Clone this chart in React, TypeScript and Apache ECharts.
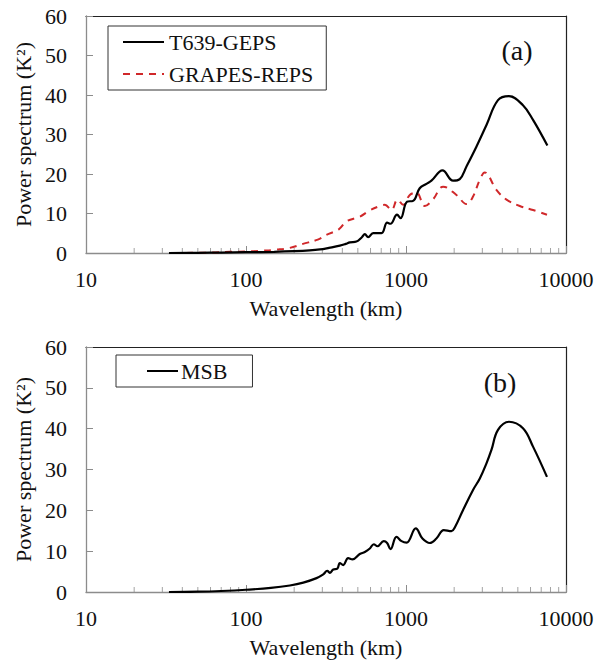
import React, { useEffect, useRef } from "react";
import * as echarts from "echarts";

const FONT = "Liberation Serif";

// Panel (a): T639-GEPS
const t639Wavelength = [33, 50, 70, 100, 150, 200, 250, 290, 330, 386, 420, 446, 490, 530, 553, 580, 623, 703, 762, 800, 879, 924, 1016, 1107, 1218, 1342, 1442, 1690, 1969, 2168, 2388, 2754, 3184, 3758, 4400, 5383, 6222, 7650];
const t639Power = [0, 0.05, 0.1, 0.2, 0.3, 0.45, 0.65, 0.9, 1.3, 1.85, 2.3, 2.7, 2.9, 4.0, 4.8, 4.0, 5.05, 5.05, 7.7, 7.4, 9.7, 8.8, 13.0, 13.2, 16.4, 17.5, 18.3, 20.9, 18.3, 18.7, 21.9, 26.9, 32.4, 38.7, 39.7, 37.4, 33.7, 27.2];

// Panel (a): GRAPES-REPS
const grapesWavelength = [35, 60, 80, 103, 128, 155, 188, 227, 281, 318, 380, 425, 514, 594, 686, 737, 811, 885, 960, 1056, 1163, 1310, 1476, 1706, 2066, 2388, 2624, 2890, 3105, 3673, 4246, 5140, 6222, 7605];
const grapesPower = [0, 0.1, 0.3, 0.4, 0.6, 0.85, 1.3, 2.3, 3.4, 4.6, 6.0, 8.0, 9.2, 10.8, 11.9, 12.2, 10.9, 13.5, 12.2, 14.7, 15.3, 11.9, 13.6, 16.8, 14.7, 12.4, 14.3, 18.5, 20.4, 16.0, 13.5, 11.9, 10.9, 9.7];

// Panel (b): MSB
const msbWavelength = [33, 50, 70, 100, 143, 188, 228, 276, 304, 322, 334, 351, 372, 386, 405, 435, 463, 514, 553, 594, 629, 664, 726, 762, 800, 872, 938, 1008, 1151, 1267, 1409, 1549, 1722, 1923, 2018, 2274, 2624, 2893, 3184, 3420, 3758, 4403, 5383, 6222, 7605];
const msbPower = [0, 0.08, 0.25, 0.55, 1.0, 1.6, 2.3, 3.4, 4.3, 5.2, 4.7, 5.5, 5.7, 7.1, 6.6, 8.3, 8.0, 9.3, 9.8, 10.65, 11.7, 11.2, 12.45, 12.0, 10.5, 13.5, 12.45, 12.1, 15.6, 13.1, 12.0, 13.1, 15.15, 14.9, 15.8, 20.1, 25.0, 27.8, 31.5, 34.8, 39.7, 41.7, 40.1, 35.6, 28.2];

// Axis definitions
const xMin = 10;
const xMax = 10000;
const xMinorTicks = [20, 30, 40, 50, 60, 70, 80, 90, 200, 300, 400, 500, 600, 700, 800, 900, 2000, 3000, 4000, 5000, 6000, 7000, 8000, 9000];
const yMin = 0;
const yMax = 60;
const yInterval = 10;

const xTitle = "Wavelength (km)";
const yTitle = "Power spectrum (K²)";
const panelLabels = ["(a)", "(b)"];

const zip = (xs: number[], ys: number[]) => xs.map((x, i) => [x, ys[i]]);

const AXIS_GRAY = "#8c8c8c";
const TEXT = "#111";

function buildOption() {
  const grids = [
    { left: 86, top: 16, width: 480, height: 237 },
    { left: 86, top: 347, width: 480, height: 245 },
  ];
  const xAxes: any[] = [];
  const yAxes: any[] = [];
  grids.forEach((_, gi) => {
    xAxes.push({
      type: "log",
      logBase: 10,
      gridIndex: gi,
      min: xMin,
      max: xMax,
      axisLine: { show: true, onZero: false, lineStyle: { color: AXIS_GRAY, width: 1.3 } },
      axisTick: { show: true, inside: true, length: 7, lineStyle: { color: AXIS_GRAY, width: 1 } },
      axisLabel: { fontFamily: FONT, fontSize: 22, color: TEXT, margin: 15, formatter: (v: number) => String(Math.round(v)) },
      splitLine: { show: false },
      name: xTitle,
      nameLocation: "middle",
      nameGap: 44,
      nameTextStyle: { fontFamily: FONT, fontSize: 22, color: TEXT },
    });
    xAxes.push({
      type: "log",
      logBase: 10,
      gridIndex: gi,
      position: "top",
      min: xMin,
      max: xMax,
      axisLine: { show: true, onZero: false, lineStyle: { color: "#222", width: 1.2 } },
      axisTick: { show: false },
      axisLabel: { show: false },
      splitLine: { show: false },
    });
    yAxes.push({
      type: "value",
      gridIndex: gi,
      min: yMin,
      max: yMax,
      interval: yInterval,
      axisLine: { show: true, onZero: false, lineStyle: { color: AXIS_GRAY, width: 1.3 } },
      axisTick: { show: true, inside: true, length: 7, lineStyle: { color: AXIS_GRAY, width: 1 } },
      axisLabel: { fontFamily: FONT, fontSize: 22, color: TEXT, margin: 19 },
      splitLine: { show: false },
      name: yTitle,
      nameLocation: "middle",
      nameGap: 49,
      nameTextStyle: { fontFamily: FONT, fontSize: 22, color: TEXT },
    });
    yAxes.push({
      type: "value",
      gridIndex: gi,
      position: "right",
      min: yMin,
      max: yMax,
      interval: yInterval,
      axisLine: { show: true, onZero: false, lineStyle: { color: "#222", width: 1.2 } },
      axisTick: { show: false },
      axisLabel: { show: false },
      splitLine: { show: false },
    });
  });

  const minorTickSeries = (gi: number) => ({
    type: "scatter",
    name: "minor-ticks-" + gi,
    xAxisIndex: gi * 2,
    yAxisIndex: gi * 2,
    data: xMinorTicks.map((v) => [v, yMin]),
    symbol: "rect",
    symbolSize: [1, 5],
    symbolOffset: [0, -2.5],
    itemStyle: { color: AXIS_GRAY },
    silent: true,
    z: 1,
  });

  const legendCommon = {
    orient: "vertical",
    borderColor: "#333",
    borderWidth: 1,
    itemHeight: 14,
    selectedMode: false,
    itemStyle: { opacity: 0, borderWidth: 0 },
  };

  return {
    animation: false,
    backgroundColor: "#fff",
    textStyle: { fontFamily: FONT },
    grid: grids,
    xAxis: xAxes,
    yAxis: yAxes,
    legend: [
      {
        ...legendCommon,
        data: ["T639-GEPS", "GRAPES-REPS"],
        left: 108,
        top: 26,
        padding: [5, 13, 5, 14],
        itemWidth: 41,
        itemGap: 10,
        textStyle: { fontFamily: FONT, fontSize: 22, color: TEXT, lineHeight: 22 },
      },
      {
        ...legendCommon,
        data: ["MSB"],
        left: 116,
        top: 355,
        padding: [5, 25, 5, 30],
        itemWidth: 31,
        textStyle: { fontFamily: FONT, fontSize: 22, color: TEXT, lineHeight: 22, padding: [0, 0, 0, -2] },
      },
    ],
    graphic: [
      {
        type: "text",
        x: 517,
        y: 50,
        style: { text: panelLabels[0], fontFamily: FONT, fontSize: 28, fill: TEXT, textAlign: "center", textVerticalAlign: "middle" },
      },
      {
        type: "text",
        x: 500,
        y: 382,
        style: { text: panelLabels[1], fontFamily: FONT, fontSize: 28, fill: TEXT, textAlign: "center", textVerticalAlign: "middle" },
      },
    ],
    series: [
      minorTickSeries(0),
      minorTickSeries(1),
      {
        type: "line",
        name: "T639-GEPS",
        xAxisIndex: 0,
        yAxisIndex: 0,
        data: zip(t639Wavelength, t639Power),
        symbol: "none",
        smooth: 0.4,
        lineStyle: { color: "#000", width: 2.2 },
        itemStyle: { color: "#000" },
        z: 3,
      },
      {
        type: "line",
        name: "GRAPES-REPS",
        xAxisIndex: 0,
        yAxisIndex: 0,
        data: zip(grapesWavelength, grapesPower),
        symbol: "none",
        smooth: 0.4,
        lineStyle: { color: "#d0282a", width: 2, type: [7, 6] },
        itemStyle: { color: "#d0282a" },
        z: 2,
      },
      {
        type: "line",
        name: "MSB",
        xAxisIndex: 2,
        yAxisIndex: 2,
        data: zip(msbWavelength, msbPower),
        symbol: "none",
        smooth: 0.4,
        lineStyle: { color: "#000", width: 2.2 },
        itemStyle: { color: "#000" },
        z: 3,
      },
    ],
  };
}

export default function App() {
  const ref = useRef<HTMLDivElement>(null);
  useEffect(() => {
    if (!ref.current) return;
    const chart = echarts.init(ref.current, undefined, { renderer: "svg" });
    chart.setOption(buildOption() as any);
    return () => chart.dispose();
  }, []);
  return (
    <div
      ref={ref}
      style={{ position: "fixed", left: 0, top: 0, width: 608, height: 662, background: "#fff" }}
    />
  );
}
